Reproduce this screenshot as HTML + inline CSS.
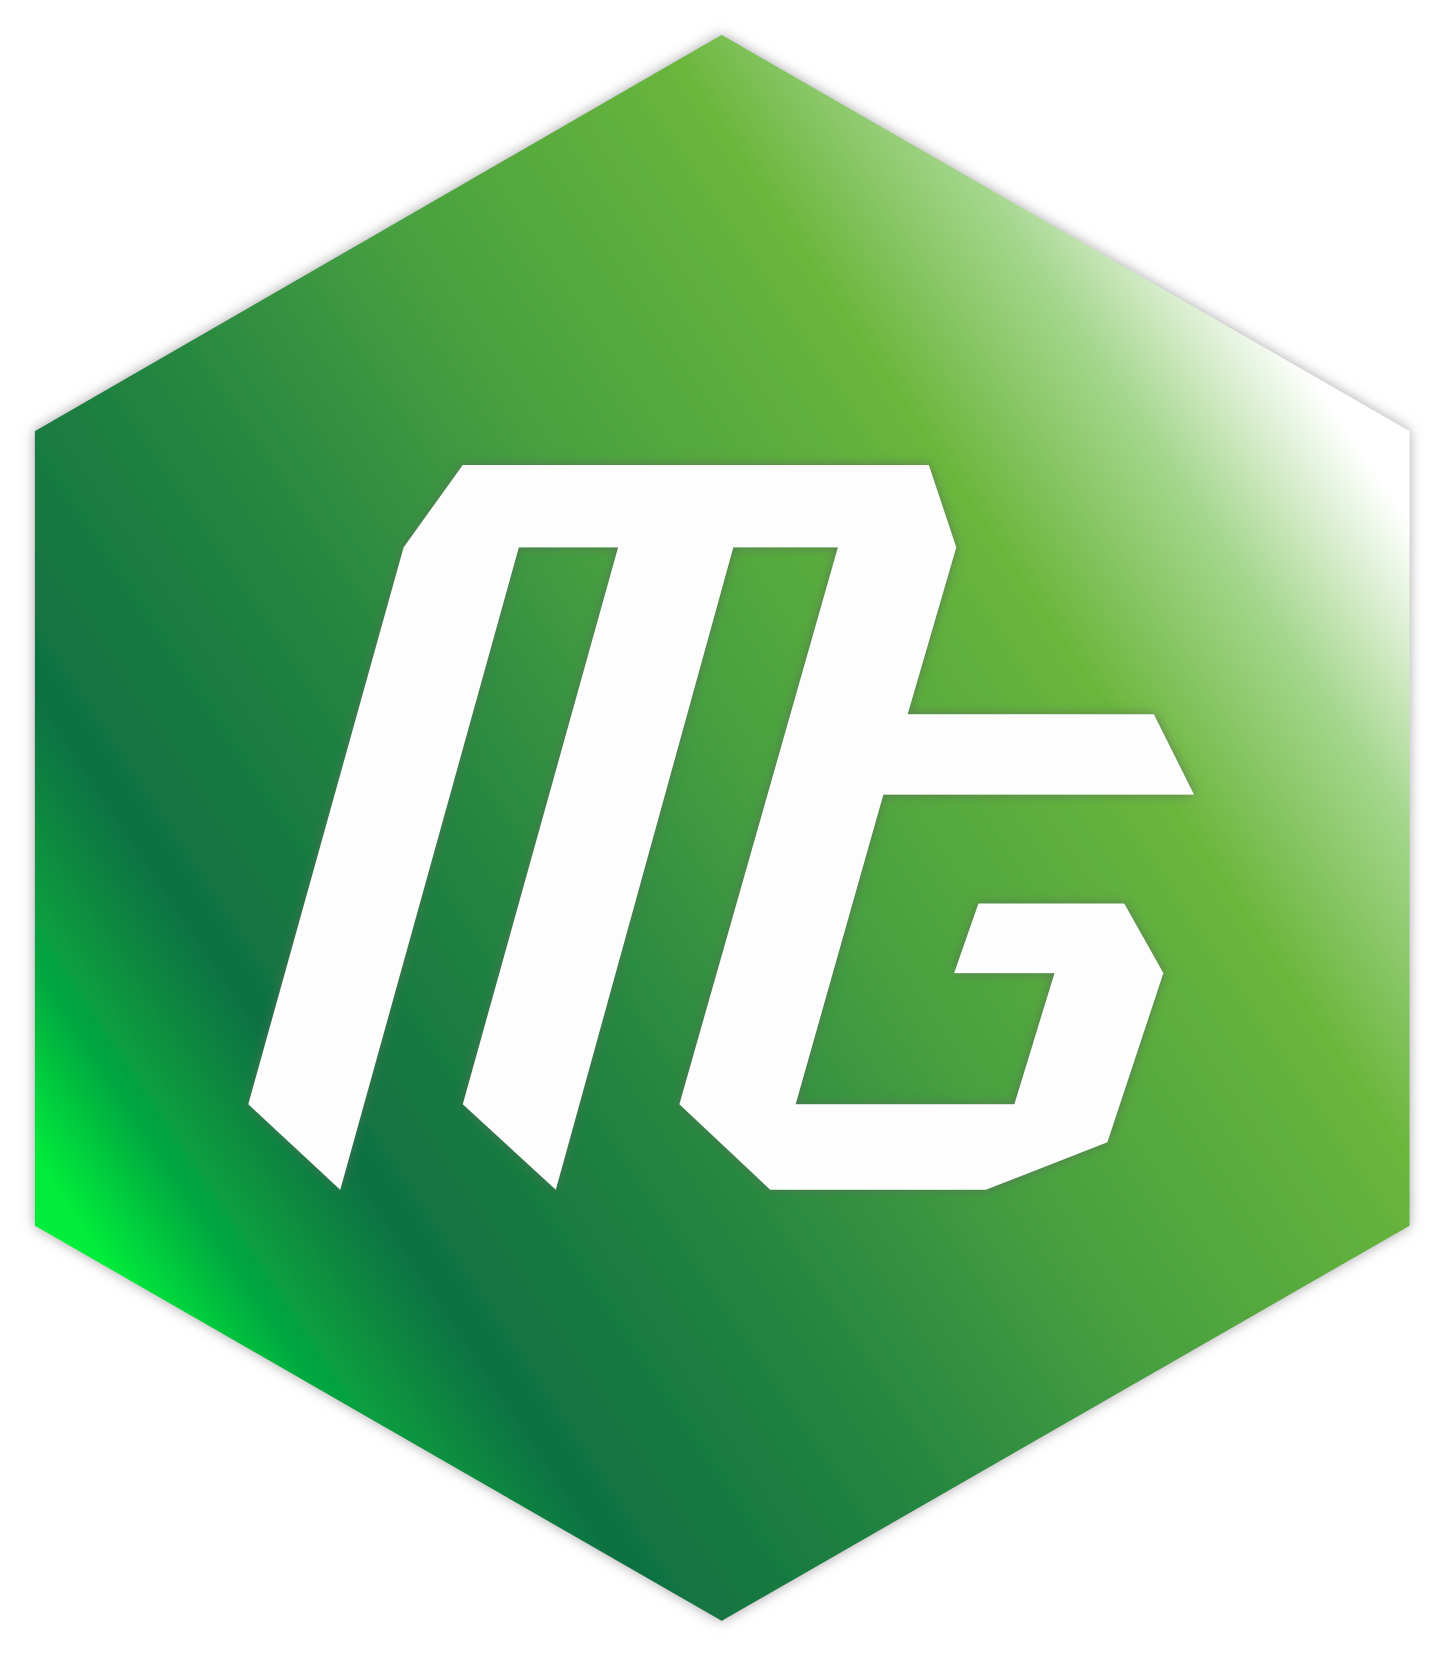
<!DOCTYPE html>
<html><head><meta charset="utf-8"><style>html,body{margin:0;padding:0;background:#fff;width:1444px;height:1656px;overflow:hidden}</style></head>
<body>
<svg width="1444" height="1656" viewBox="0 0 1366.6 1567.2" xmlns="http://www.w3.org/2000/svg">
<defs>
<linearGradient id="g" gradientUnits="userSpaceOnUse" x1="60" y1="1140" x2="1277" y2="329">
<stop offset="0" stop-color="#00ee3a"/>
<stop offset="0.07" stop-color="#05a840"/>
<stop offset="0.17" stop-color="#0f7142"/>
<stop offset="0.35" stop-color="#238540"/>
<stop offset="0.53" stop-color="#48a03f"/>
<stop offset="0.74" stop-color="#6ab63c"/>
<stop offset="0.86" stop-color="#a4d68c"/>
<stop offset="0.97" stop-color="#ffffff"/>
</linearGradient>
<filter id="sh" x="-10%" y="-10%" width="120%" height="120%"><feDropShadow dx="0" dy="0" stdDeviation="6" flood-color="#a8a4a8" flood-opacity="1"/></filter>
<filter id="sh2" x="-10%" y="-10%" width="120%" height="120%"><feDropShadow dx="0" dy="0" stdDeviation="5" flood-color="#5a6a5a" flood-opacity="0.8"/></filter>
</defs>
<polygon points="683,33 1334,408 1334,1160 683,1534 33,1160 33,408" fill="url(#g)" filter="url(#sh)"/>
<polygon fill="#fdfdfd" filter="url(#sh2)" points="438,440 879,440 905,518 859,676 1092,676 1130,752 836,752 753,1045 960,1045 998,921 903,921 926,855 1064,855 1101,921 1048,1081 933,1126 729,1126 643,1045 793,518 694,518 526,1126 438,1045 585,518 491,518 322,1126 235,1045 382,518"/>
</svg>
</body></html>
